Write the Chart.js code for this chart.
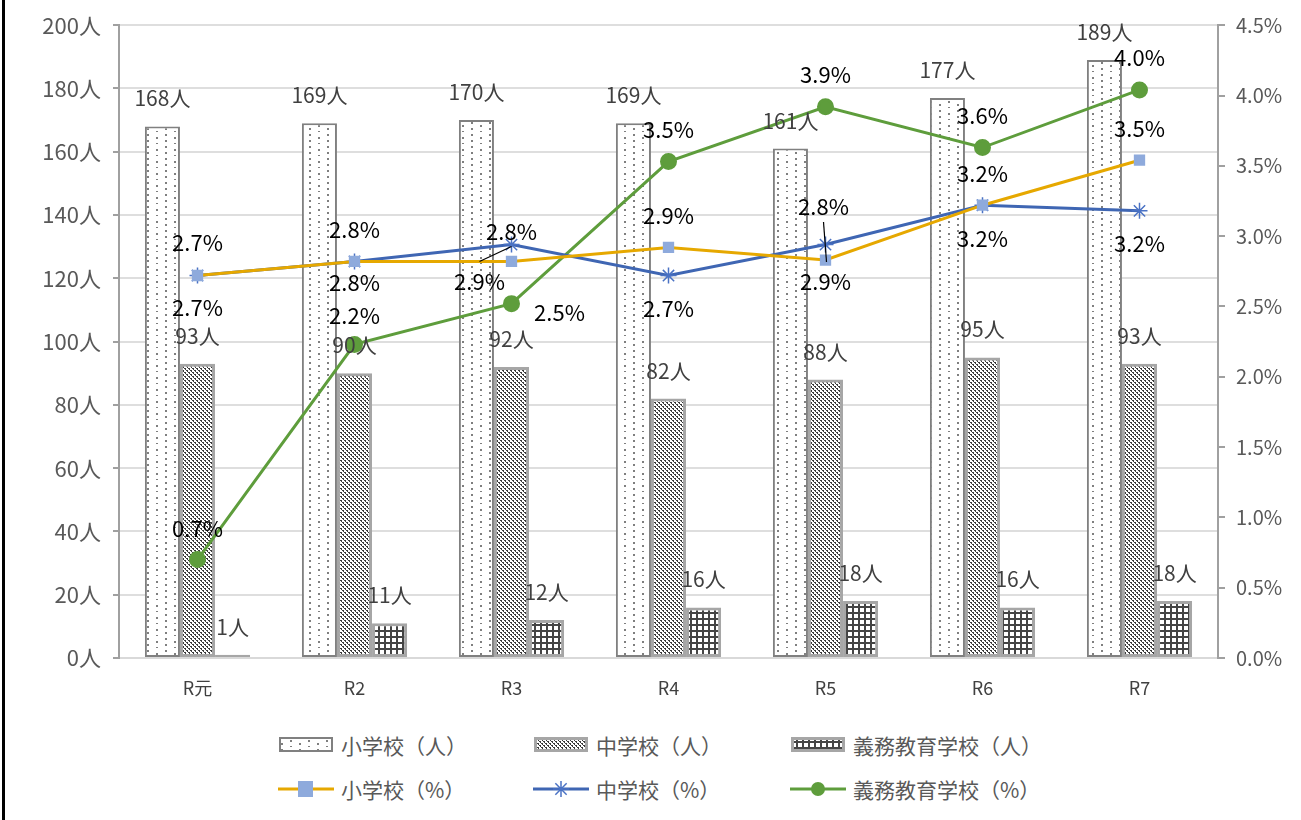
<!DOCTYPE html>
<html>
<head>
<meta charset="utf-8">
<script src="https://cdn.jsdelivr.net/npm/chart.js@4"></script>
<style>
  body { margin: 0; background: #fff; font-family: 'Noto Sans CJK JP', 'Noto Sans', sans-serif; }
  #wrap { position: relative; width: 1301px; height: 820px; overflow: hidden; }
  #frame { position: absolute; left: 2px; top: 0; width: 3px; height: 820px; background: #000; }
  #chart { position: absolute; left: 0; top: 0; }
  .lg { position: absolute; display: flex; align-items: center; font-size: 21px; color: #595959; white-space: nowrap; }
  .lg canvas { margin-right: 7px; }
</style>
</head>
<body>
<div id="wrap">
  <canvas id="chart" width="1301" height="715"></canvas>
  <div id="frame"></div>
  <div id="legend"></div>
</div>
<script>
const years = ['R元', 'R2', 'R3', 'R4', 'R5', 'R6', 'R7'];

const elemCount = [168, 169, 170, 169, 161, 177, 189];
const juniorCount = [93, 90, 92, 82, 88, 95, 93];
const compCount = [1, 11, 12, 16, 18, 16, 18];

const elemRate = [2.72, 2.82, 2.82, 2.92, 2.83, 3.22, 3.54];
const juniorRate = [2.72, 2.82, 2.94, 2.72, 2.94, 3.22, 3.18];
const compRate = [0.70, 2.23, 2.52, 3.53, 3.92, 3.63, 4.04];

const countTicks = [0, 20, 40, 60, 80, 100, 120, 140, 160, 180, 200];
const rateTicks = [0, 0.5, 1, 1.5, 2, 2.5, 3, 3.5, 4, 4.5];

const FONT = "'Noto Sans CJK JP', 'Noto Sans', sans-serif";

// fill patterns for the bars
function makePattern(w, h, draw) {
  const c = document.createElement('canvas');
  c.width = w; c.height = h;
  const g = c.getContext('2d');
  g.fillStyle = '#fff';
  g.fillRect(0, 0, w, h);
  draw(g);
  return g.createPattern(c, 'repeat');
}

const dotPattern = makePattern(18, 12, g => {
  g.fillStyle = '#7f7f7f';
  [[3, 2], [3, 8], [12, 5], [12, 11]].forEach(p => g.fillRect(p[0], p[1], 2, 2));
});

const diagPattern = makePattern(4, 4, g => {
  g.fillStyle = '#3a3a3a';
  [[0, 0], [1, 1], [2, 2], [3, 3], [1, 0], [3, 2]].forEach(p => g.fillRect(p[0], p[1], 1, 1));
});

const gridPattern = makePattern(6, 6, g => {
  g.fillStyle = '#444';
  g.fillRect(0, 0, 6, 2);
  g.fillRect(0, 0, 2, 6);
});

const orange = '#e6a800';
const blue = '#3f66b3';
const green = '#5e9d3c';

const labelPlugin = {
  id: 'valueLabels',
  afterDatasetsDraw(chart) {
    const ctx = chart.ctx;
    ctx.save();
    ctx.textAlign = 'center';
    ctx.textBaseline = 'middle';
    chart.data.datasets.forEach((ds, i) => {
      const meta = chart.getDatasetMeta(i);
      meta.data.forEach((el, j) => {
        const v = ds.data[j];
        const isBar = ds.type === 'bar';
        const off = ds.labelOffsets ? ds.labelOffsets[j] : [0, -28];
        const x = el.x + off[0];
        const y = el.y + off[1];
        if (off[2]) {
          ctx.strokeStyle = '#000';
          ctx.lineWidth = 1.2;
          ctx.beginPath();
          ctx.moveTo(el.x + off[2][0], el.y + off[2][1]);
          ctx.lineTo(el.x + off[2][2], el.y + off[2][3]);
          ctx.stroke();
        }
        ctx.font = (isBar ? '21px ' : '22px ') + FONT;
        ctx.fillStyle = isBar ? '#404040' : '#000';
        ctx.fillText(isBar ? v + '人' : v.toFixed(1) + '%', x, y);
      });
    });
    ctx.restore();
  }
};

new Chart(document.getElementById('chart'), {
  data: {
    labels: years,
    datasets: [
      {
        type: 'line', label: '小学校（%）', data: elemRate, yAxisID: 'y1', order: 0,
        borderColor: orange, borderWidth: 3, pointStyle: 'rect', pointRadius: 8,
        pointBackgroundColor: '#8eaadc', pointBorderColor: '#8eaadc', pointBorderWidth: 0,
        labelOffsets: [[0, -33], [0, -32], [0, -30], [0, -32], [-2, -53, [-2, -38, 1, 2]], [0, -32], [0, -32]]
      },
      {
        type: 'line', label: '中学校（%）', data: juniorRate, yAxisID: 'y1', order: 0,
        borderColor: blue, borderWidth: 3, pointStyle: 'star', pointRadius: 8,
        pointBorderColor: '#4a72c4', pointBackgroundColor: '#4a72c4', pointBorderWidth: 1.5,
        labelOffsets: [[0, 32], [0, 21], [-32, 37, [-32, 17, 0, 2]], [0, 33], [0, 37], [0, 33], [0, 33]]
      },
      {
        type: 'line', label: '義務教育学校（%）', data: compRate, yAxisID: 'y1', order: 0,
        borderColor: green, borderWidth: 3, pointStyle: 'circle', pointRadius: 7,
        pointBackgroundColor: green, pointBorderColor: green,
        labelOffsets: [[0, -31], [0, -29], [48, 9], [0, -32], [0, -32], [0, -32], [0, -32]]
      },
      {
        type: 'bar', label: '小学校（人）', data: elemCount, yAxisID: 'y', order: 1,
        backgroundColor: dotPattern, borderColor: '#808080', borderWidth: 2, borderSkipped: false
      },
      {
        type: 'bar', label: '中学校（人）', data: juniorCount, yAxisID: 'y', order: 1,
        backgroundColor: diagPattern, borderColor: '#a6a6a6', borderWidth: 3, borderSkipped: false
      },
      {
        type: 'bar', label: '義務教育学校（人）', data: compCount, yAxisID: 'y', order: 1,
        backgroundColor: gridPattern, borderColor: '#a6a6a6', borderWidth: 3, borderSkipped: false
      }
    ]
  },
  options: {
    responsive: false,
    animation: false,
    layout: { padding: { top: 25, left: 0, right: 0, bottom: 0 } },
    datasets: {
      bar: { categoryPercentage: 0.67, barPercentage: 1.0 }
    },
    plugins: {
      legend: { display: false },
      tooltip: { enabled: false }
    },
    scales: {
      x: {
        grid: { display: false, drawTicks: false },
        border: { display: true, color: '#d9d9d9', width: 2 },
        ticks: { color: '#404040', font: { family: FONT, size: 18 }, padding: 19 },
        afterFit: s => { s.height = 57; }
      },
      y: {
        position: 'left',
        min: 0, max: 200,
        afterBuildTicks: s => { s.ticks = countTicks.map(v => ({ value: v })); },
        grid: { color: '#dedede', lineWidth: 2, tickColor: '#a0a0a0', tickLength: 6 },
        border: { color: '#a0a0a0', width: 2 },
        ticks: { color: '#595959', font: { family: FONT, size: 22 }, padding: 12, callback: v => v + '人' },
        afterFit: s => { s.width = 119; }
      },
      y1: {
        position: 'right',
        min: 0, max: 4.5,
        afterBuildTicks: s => { s.ticks = rateTicks.map(v => ({ value: v })); },
        grid: { drawOnChartArea: false, tickColor: '#a0a0a0', tickLength: 7, lineWidth: 2 },
        border: { color: '#a0a0a0', width: 2 },
        ticks: { color: '#595959', font: { family: FONT, size: 20 }, padding: 11, callback: v => v.toFixed(1) + '%' },
        afterFit: s => { s.width = 83; }
      }
    }
  },
  plugins: [labelPlugin]
});

// legend, built as html with small drawn swatches
const legendItems = [
  { text: '小学校（人）', kind: 'bar', fill: dotPattern, border: '#808080', bw: 2, x: 278, y: 745 },
  { text: '中学校（人）', kind: 'bar', fill: diagPattern, border: '#a6a6a6', bw: 3, x: 533, y: 745 },
  { text: '義務教育学校（人）', kind: 'bar', fill: gridPattern, border: '#a6a6a6', bw: 3, x: 790, y: 745 },
  { text: '小学校（%）', kind: 'line', color: orange, marker: 'rect', mcolor: '#8eaadc', x: 278, y: 789 },
  { text: '中学校（%）', kind: 'line', color: blue, marker: 'star', mcolor: '#4a72c4', x: 533, y: 789 },
  { text: '義務教育学校（%）', kind: 'line', color: green, marker: 'circle', mcolor: green, x: 790, y: 789 }
];

const legendEl = document.getElementById('legend');
legendItems.forEach(item => {
  const row = document.createElement('div');
  row.className = 'lg';
  row.style.left = item.x + 'px';
  row.style.top = (item.y - 15) + 'px';
  row.style.height = '30px';
  const c = document.createElement('canvas');
  c.width = 56; c.height = 20;
  const g = c.getContext('2d');
  if (item.kind === 'bar') {
    g.fillStyle = item.fill;
    g.fillRect(1, 3, 54, 14);
    g.strokeStyle = item.border;
    g.lineWidth = item.bw;
    g.strokeRect(1 + item.bw / 2, 3 + item.bw / 2 - 1, 54 - item.bw, 15 - item.bw);
  } else {
    g.strokeStyle = item.color;
    g.lineWidth = 3;
    g.beginPath();
    g.moveTo(0, 10); g.lineTo(56, 10);
    g.stroke();
    g.fillStyle = item.mcolor;
    g.strokeStyle = item.mcolor;
    if (item.marker === 'rect') {
      g.fillRect(20, 2, 15, 16);
    } else if (item.marker === 'circle') {
      g.beginPath(); g.arc(28, 10, 7, 0, Math.PI * 2); g.fill();
    } else {
      g.lineWidth = 1.5;
      g.beginPath();
      for (let k = 0; k < 4; k++) {
        const a = k * Math.PI / 4;
        g.moveTo(28 - 8 * Math.sin(a), 10 - 8 * Math.cos(a));
        g.lineTo(28 + 8 * Math.sin(a), 10 + 8 * Math.cos(a));
      }
      g.stroke();
    }
  }
  row.appendChild(c);
  const span = document.createElement('span');
  span.textContent = item.text;
  row.appendChild(span);
  legendEl.appendChild(row);
});
</script>
</body>
</html>
